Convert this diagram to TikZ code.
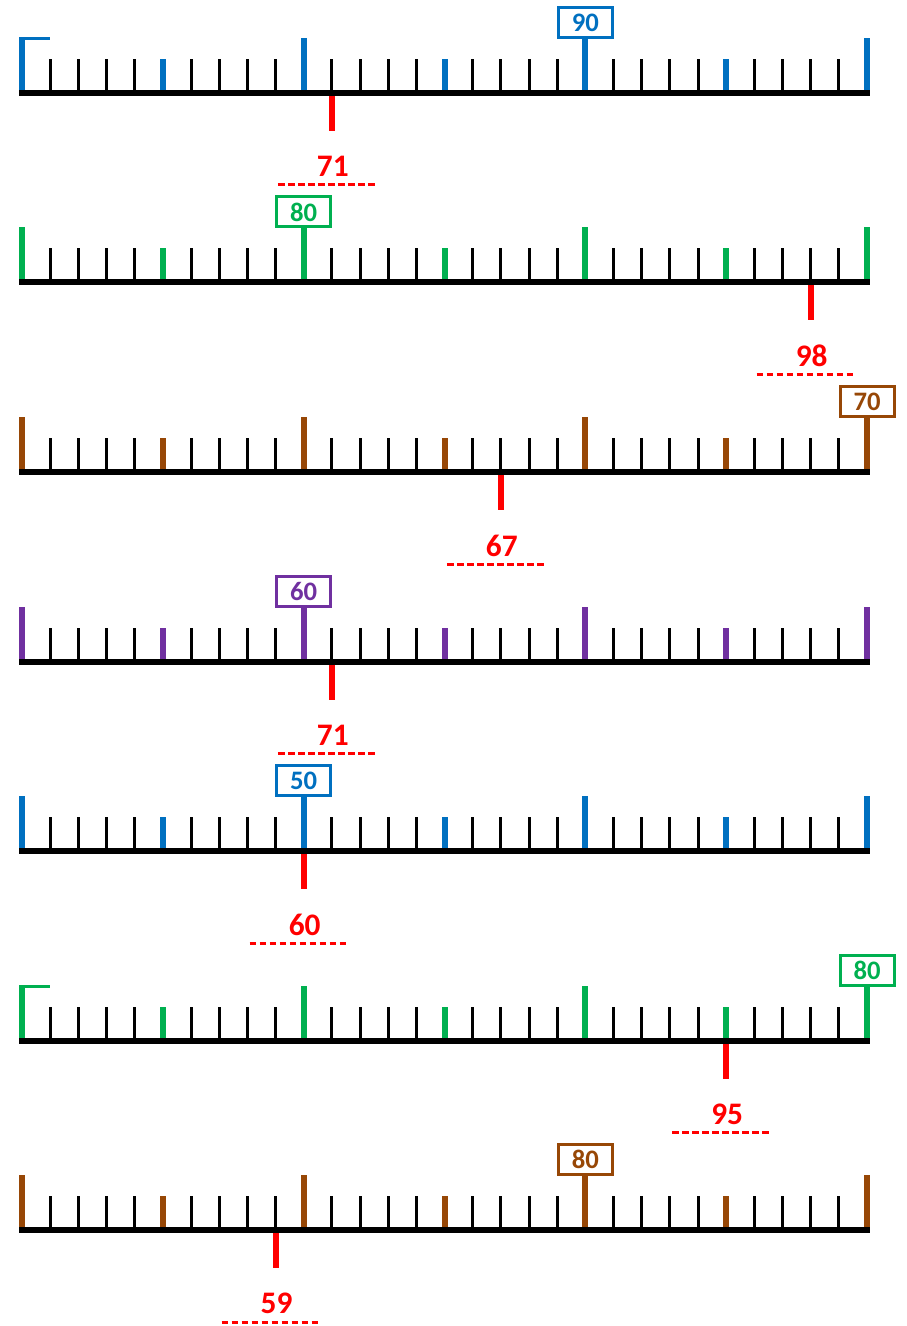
\documentclass[tikz,border=0pt]{standalone}
\usepackage{fontspec}
\setmainfont{Carlito}
\definecolor{lineblue}{HTML}{0070C0}
\definecolor{linegreen}{HTML}{00B050}
\definecolor{linebrown}{HTML}{974706}
\definecolor{linepurple}{HTML}{7030A0}
\definecolor{markred}{HTML}{FF0000}

\begin{document}
\begin{tikzpicture}[x=0.75pt,y=-0.75pt,
  axisline/.style={line width=4.5pt},
  minortick/.style={line width=2.25pt},
  majortick/.style={line width=4.5pt},
  valbox/.style={draw, line width=2.25pt, minimum width=40.5pt, minimum height=22.5pt, inner sep=0pt, font=\bfseries\fontsize{20}{20}\selectfont},
  marktick/.style={markred, line width=4.5pt},
  marklabel/.style={markred, inner sep=0pt, font=\bfseries\fontsize{23.5}{23.5}\selectfont},
  markdash/.style={markred, line width=2.25pt, dash pattern=on 5pt off 2.5pt}]
\useasboundingbox (0,0) rectangle (906,1326);
\foreach \row/\col/\boxat/\boxval/\markat/\markval/\flag in {
  1/lineblue/20/90/11/71/1,
  2/linegreen/10/80/28/98/0,
  3/linebrown/30/70/17/67/0,
  4/linepurple/10/60/11/71/0,
  5/lineblue/10/50/10/60/0,
  6/linegreen/30/80/25/95/1,
  7/linebrown/20/80/9/59/0}{
  \pgfmathsetmacro\yb{93+189.5*(\row-1)}
  % small ticks, then coloured ones on top
  \foreach \i in {0,...,30}
    \draw[minortick] (22+28.167*\i,\yb) -- (22+28.167*\i,\yb-34);
  \foreach \i in {5,15,25}
    \draw[majortick,\col] (22+28.167*\i,\yb) -- (22+28.167*\i,\yb-34);
  \foreach \i in {0,10,20,30}
    \draw[majortick,\col] (22+28.167*\i,\yb) -- (22+28.167*\i,\yb-55);
  \ifnum\flag=1
    \draw[minortick,\col] (19,\yb-54.5) -- (50,\yb-54.5);
  \fi
  \draw[axisline] (19,\yb) -- (870,\yb);
  % value box on its stem
  \node[valbox, draw=\col, text=\col] (box\row) at (22+28.167*\boxat,\yb-70.5) {\boxval};
  \coordinate (stem\row) at (22+28.167*\boxat,\yb-3);
  \draw[majortick,\col] (stem\row) -- (box\row.south);
  % red mark and its answer
  \coordinate (mark\row) at (22+28.167*\markat,\yb+3);
  \coordinate (markend\row) at (22+28.167*\markat,\yb+38);
  \draw[marktick] (mark\row) -- (markend\row);
  \node[marklabel] (ans\row) at (23+28.167*\markat,\yb+73.5) {\markval};
  \draw[markdash] (28.167*\markat-32,\yb+92) -- (28.167*\markat+66,\yb+92);
}
\end{tikzpicture}
\end{document}
